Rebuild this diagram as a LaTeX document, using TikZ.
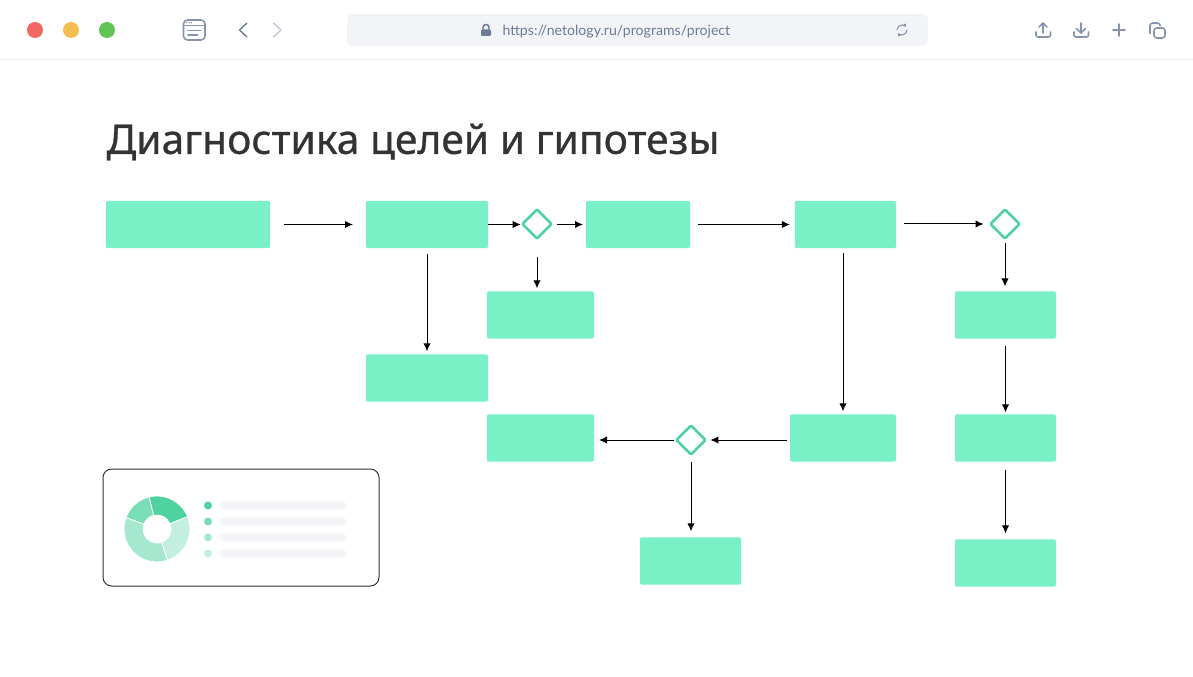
\documentclass[tikz,border=0pt]{standalone}
\usepackage{fontspec}
\setmainfont{Noto Sans}
\newfontfamily\urlfont{Lato}
\newfontfamily\titlefont[FakeBold=0.7]{Noto Sans}
\usetikzlibrary{arrows.meta,shapes.geometric}

\definecolor{boxgreen}{HTML}{7AF0C6}
\definecolor{rhombgreen}{HTML}{4FD3A3}
\definecolor{chartone}{HTML}{4DD2A0}
\definecolor{charttwo}{HTML}{79DDB8}
\definecolor{chartthree}{HTML}{A6E8CF}
\definecolor{chartfour}{HTML}{C3F0DE}
\definecolor{barpale}{HTML}{F3F4F8}
\definecolor{iconblue}{HTML}{8593AC}
\definecolor{icondark}{HTML}{64748F}
\definecolor{iconpale}{HTML}{BCC3D2}
\definecolor{textgrey}{HTML}{6B7A95}

\tikzset{
  every picture/.style={line width=0.75pt},
  block/.style={fill=boxgreen,rounded corners=1.5pt,outer sep=0pt,inner sep=0pt,minimum height=35.5pt},
  rhomb/.style={shape=diamond,aspect=1,draw=rhombgreen,line width=1.9pt,rounded corners=1pt,inner sep=0pt,minimum size=22.5pt},
  flow/.style={-{Latex[length=6pt,width=5.5pt]},black,line width=0.75pt},
  light/.style={circle,inner sep=0pt,minimum size=12pt},
  icon/.style={iconblue,line width=1.15pt,line cap=round,line join=round},
  legenddot/.style={circle,inner sep=0pt,minimum size=6pt},
  legendbar/.style={fill=barpale,rounded corners=3pt,inner sep=0pt,minimum width=95pt,minimum height=6pt},
}

\begin{document}
\begin{tikzpicture}[x=0.75pt,y=0.75pt,yscale=-1,xscale=1]
\useasboundingbox (0,0) rectangle (1193,677);

%Window bar
\node (red) [light,fill={rgb,255:red,242;green,103;blue,95}] at (35,30) {};
\node (yellow) [light,fill={rgb,255:red,245;green,189;blue,79}] at (71,30) {};
\node (green) [light,fill={rgb,255:red,97;green,197;blue,84}] at (107,30) {};
\draw [color={rgb,255:red,238;green,239;blue,242}] (0,59.5) -- (1193,59.5);

%Window icon
\draw [icon] (183.5,20) [rounded corners=3pt] rectangle (205,40);
\draw [icon,line width=0.9pt] (183.5,25.5) -- (205,25.5);
\foreach \dotx in {186.5,189,191.5} \fill [iconblue] (\dotx,22.7) circle (0.8);
\draw [icon] (188,30.5) -- (200.5,30.5);
\draw [icon] (188,35) -- (197.5,35);

%Back and forward
\draw [icondark,line width=0.95pt,line cap=round,line join=round] (247,23) -- (239.5,30) -- (247,37);
\draw [iconpale,line width=0.95pt,line cap=round,line join=round] (273.5,23) -- (281,30) -- (273.5,37);

%Address bar
\node (address) [fill=barpale,rounded corners=3.75pt,inner sep=0pt,minimum width=435.75pt,minimum height=24pt] at (637.5,30) {};
\fill [textgrey] (481,29.5) [rounded corners=0.8pt] rectangle (491,36);
\draw [textgrey,line width=1.1pt] (483,30) -- (483,27.5) arc[start angle=180,end angle=360,radius=3] -- (489,30);
\node (url) [anchor=west,inner sep=0pt,text=textgrey,font=\urlfont\fontsize{10.6pt}{12pt}\selectfont] at (502,31.5) {https://netology.ru/programs/project};
\draw [icon,line width=0.8pt,-{Latex[length=2.5pt,width=3pt]}] (897,30) arc[start angle=180,end angle=325,radius=5];
\draw [icon,line width=0.8pt,-{Latex[length=2.5pt,width=3pt]}] (907,30) arc[start angle=0,end angle=145,radius=5];

%Upload, download, plus, copy
\draw [icon] (1036,32) -- (1036,35) [rounded corners=1.5pt] -- (1036,37) -- (1050.5,37) -- (1050.5,32);
\draw [icon] (1043,33) -- (1043,23.5);
\draw [icon] (1039,27) -- (1043,23) -- (1047,27);
\draw [icon] (1074,32) -- (1074,35) [rounded corners=1.5pt] -- (1074,37) -- (1088.5,37) -- (1088.5,32);
\draw [icon] (1081,23) -- (1081,33);
\draw [icon] (1076.5,28.5) -- (1081,33) -- (1085.5,28.5);
\draw [icon] (1113,30) -- (1125,30);
\draw [icon] (1119,24) -- (1119,36);
\draw [icon,rounded corners=2pt] (1154,28) rectangle (1165,38);
\draw [icon,rounded corners=2pt] (1150,33.5) -- (1150,23) -- (1160,23) -- (1160,25);

% Title
\node (title) [anchor=west,inner sep=0pt,text={rgb,255:red,51;green,51;blue,51},font=\titlefont\fontsize{30.6pt}{36pt}\selectfont] at (106,142) {Диагностика целей и гипотезы};

%Blocks
\node (start) [block,minimum width=123pt] at (188,224.5) {};
\node (goals) [block,minimum width=91.5pt] at (427,224.5) {};
\node (stepa) [block,minimum width=78pt] at (638,224.5) {};
\node (stepb) [block,minimum width=76pt] at (845.5,224.5) {};
\node (brancha) [block,minimum width=80.25pt] at (540.5,315) {};
\node (goalsub) [block,minimum width=91.5pt] at (427,378) {};
\node (righta) [block,minimum width=75.75pt] at (1005.5,315) {};
\node (rightb) [block,minimum width=75.75pt] at (1005.5,438) {};
\node (rightc) [block,minimum width=75.75pt] at (1005.5,563) {};
\node (back) [block,minimum width=79.5pt] at (843,438) {};
\node (backa) [block,minimum width=80.25pt] at (540.5,438) {};
\node (backb) [block,minimum width=75.75pt] at (690.5,561) {};

%Rhombs
\node (rhomba) [rhomb] at (537,224) {};
\node (rhombb) [rhomb] at (1005,224) {};
\node (rhombc) [rhomb] at (691,440) {};

%Arrows
\draw [flow,shorten <=10.5pt,shorten >=9.75pt] (start.east) -- (goals.west);
\draw [flow] (goals.east) -- (goals.east -| rhomba.west);
\draw [flow,shorten <=3.1pt,shorten >=2.25pt] (stepa.west -| rhomba.east) -- (stepa.west);
\draw [flow,shorten <=6pt,shorten >=3.75pt] (stepa.east) -- (stepb.west);
\draw [flow,shorten <=6pt,shorten >=3.9pt] (rhombb.west -| stepb.east) -- (rhombb.west);
\draw [flow,shorten <=2.4pt,shorten >=3.75pt] (rhombb.south) -- (rhombb.south |- righta.north);
\draw [flow,shorten <=5.25pt,shorten >=1.5pt,xshift=-0.4pt] (righta.south) -- (rightb.north);
\draw [flow,shorten <=6pt,shorten >=4.5pt,xshift=-0.4pt] (rightb.south) -- (rightc.north);
\draw [flow,shorten <=3.75pt,shorten >=2.25pt] (back.north |- stepb.south) -- (back.north);
\draw [flow,shorten <=2.4pt,shorten >=2.4pt] (rhombc.east -| back.west) -- (rhombc.east);
\draw [flow,shorten <=0.9pt,shorten >=3.75pt] (rhombc.west) -- (rhombc.west -| backa.east);
\draw [flow,shorten <=4.6pt,shorten >=4.5pt,xshift=-0.75pt] (rhombc.south) -- (rhombc.south |- backb.north);
\draw [flow,shorten <=6.75pt,shorten >=2.25pt,xshift=-0.75pt] (rhomba.south |- goals.south) -- (rhomba.south |- brancha.north);
\draw [flow,shorten <=4.5pt,shorten >=2.25pt,xshift=-0.75pt] (goals.south) -- (goalsub.north);

%Chart card
\node (card) [draw={rgb,255:red,51;green,51;blue,51},rounded corners=6.5pt,inner sep=0pt,minimum width=207pt,minimum height=87.75pt] at (241,527.5) {};
\begin{scope}[shift={(157,529)},yscale=-1]
\foreach \from/\upto/\shade in {22/104/chartone,104/160/charttwo,160/289/chartthree,289/382/chartfour}
  \fill [\shade,draw=white,line width=0.6pt] (\from:14) -- (\from:33) arc[start angle=\from,end angle=\upto,radius=33] -- (\upto:14) arc[start angle=\upto,end angle=\from,radius=14] -- cycle;
\end{scope}
\foreach \rowy/\shade/\rowname in {505.5/chartone/a,521.5/charttwo/b,537.5/chartthree/c,553.5/chartfour/d}{
  \node (dot\rowname) [legenddot,fill=\shade] at (208,\rowy) {};
  \node (bar\rowname) [legendbar] at (283,\rowy) {};
}

\end{tikzpicture}
\end{document}
